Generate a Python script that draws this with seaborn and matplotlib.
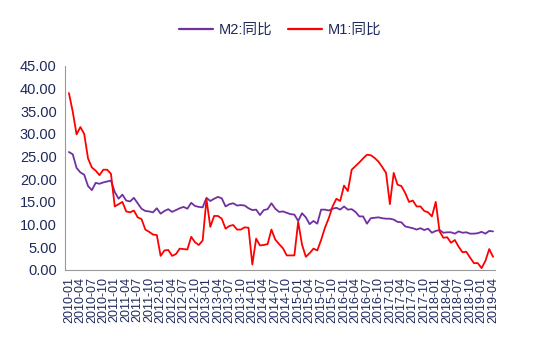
import numpy as np
import pandas as pd
import matplotlib
matplotlib.use('Agg')
import matplotlib.pyplot as plt
import seaborn as sns

sns.set_style('white')
plt.rcParams['font.family'] = ['Liberation Sans', 'Noto Sans CJK SC', 'DejaVu Sans']

# 2010-01 ~ 2019-04, 월별
months = pd.period_range('2010-01', '2019-04', freq='M').strftime('%Y-%m').tolist()

m2 = [26.0, 25.5, 22.5, 21.5, 21.0, 18.5, 17.6, 19.2, 19.0, 19.3, 19.5, 19.7,
      17.2, 15.7, 16.6, 15.3, 15.1, 15.9, 14.7, 13.5, 13.0, 12.9, 12.7, 13.6,
      12.4, 13.0, 13.4, 12.8, 13.2, 13.6, 13.9, 13.5, 14.8, 14.1, 13.9, 13.8,
      15.9, 15.2, 15.7, 16.1, 15.8, 14.0, 14.5, 14.7, 14.2, 14.3, 14.2, 13.6,
      13.2, 13.3, 12.1, 13.2, 13.4, 14.7, 13.5, 12.8, 12.9, 12.6, 12.3, 12.2,
      10.8, 12.5, 11.6, 10.1, 10.8, 10.2, 13.3, 13.3, 13.1, 13.5, 13.7, 13.3,
      14.0, 13.3, 13.4, 12.8, 11.8, 11.8, 10.2, 11.4, 11.5, 11.6, 11.4, 11.3,
      11.3, 11.1, 10.6, 10.5, 9.6, 9.4, 9.2, 8.9, 9.2, 8.8, 9.1, 8.2,
      8.6, 8.8, 8.2, 8.3, 8.3, 8.0, 8.5, 8.2, 8.3, 8.0, 8.0, 8.1,
      8.4, 8.0, 8.6, 8.5]

m1 = [39.0, 34.9, 29.9, 31.5, 30.0, 24.6, 22.6, 21.9, 20.9, 22.1, 22.1, 21.2,
      14.0, 14.5, 15.0, 12.9, 12.7, 13.1, 11.6, 11.2, 8.9, 8.4, 7.8, 7.7,
      3.1, 4.3, 4.4, 3.1, 3.5, 4.7, 4.6, 4.5, 7.3, 6.1, 5.5, 6.5,
      15.6, 9.5, 11.9, 11.9, 11.3, 9.1, 9.7, 9.9, 8.9, 8.9, 9.4, 9.3,
      1.2, 6.9, 5.4, 5.5, 5.7, 8.9, 6.7, 5.7, 4.8, 3.2, 3.2, 3.2,
      10.6, 5.6, 2.9, 3.7, 4.7, 4.3, 6.6, 9.3, 11.4, 14.0, 15.7, 15.2,
      18.6, 17.4, 22.1, 22.9, 23.7, 24.6, 25.4, 25.3, 24.7, 23.9, 22.7, 21.4,
      14.5, 21.4, 18.8, 18.5, 17.0, 15.0, 15.3, 14.0, 14.0, 13.0, 12.7, 11.8,
      15.0, 8.5, 7.1, 7.2, 6.0, 6.6, 5.1, 3.9, 4.0, 2.7, 1.5, 1.5,
      0.4, 2.0, 4.6, 2.9]

series_names = ['M2:同比', 'M1:同比']
colors = ['#7030A0', '#FF0000']

idx = np.arange(len(months))
df = pd.DataFrame({
    'idx': np.concatenate([idx, idx]),
    'value': m2 + m1,
    'series': [series_names[0]] * len(months) + [series_names[1]] * len(months),
})

fig = plt.figure(figsize=(5.38, 3.58), dpi=100)
ax = fig.add_axes([0.121, 0.246, 0.799, 0.570])

sns.lineplot(data=df, x='idx', y='value', hue='series', hue_order=series_names,
             palette=colors, linewidth=1.3, ax=ax)

text_color = '#1F2A5C'
ax.set_xlim(-1, 111.5)
ax.set_ylim(0, 45)
ax.set_yticks(np.arange(0, 46, 5))
ax.set_yticklabels([f'{v:.2f}' for v in np.arange(0, 46, 5)], fontsize=10.5, color=text_color)

ax.set_xticks(idx[::3])
ax.set_xticklabels(months[::3], rotation=90, fontsize=9, color=text_color)
ax.set_xticks(idx[::2], minor=True)
ax.tick_params(axis='x', which='major', length=0, pad=5)
ax.tick_params(axis='x', which='minor', length=4, color='#999999', width=0.8)
ax.tick_params(axis='y', length=3, color='#999999', width=0.8, pad=3)

ax.set_xlabel('')
ax.set_ylabel('')
for side in ['top', 'right']:
    ax.spines[side].set_visible(False)
for side in ['left', 'bottom']:
    ax.spines[side].set_color('#999999')
    ax.spines[side].set_linewidth(0.8)

leg = ax.legend(loc='upper center', bbox_to_anchor=(0.5, 1.275), ncol=2,
                frameon=False, handlelength=2.3, handletextpad=0.4, columnspacing=1.1,
                prop={'family': ['Liberation Sans', 'Noto Sans CJK SC'], 'size': 10.5})
for t in leg.get_texts():
    t.set_color(text_color)
for h in leg.get_lines():
    h.set_linewidth(1.6)

fig.savefig('out.png', dpi=100)
